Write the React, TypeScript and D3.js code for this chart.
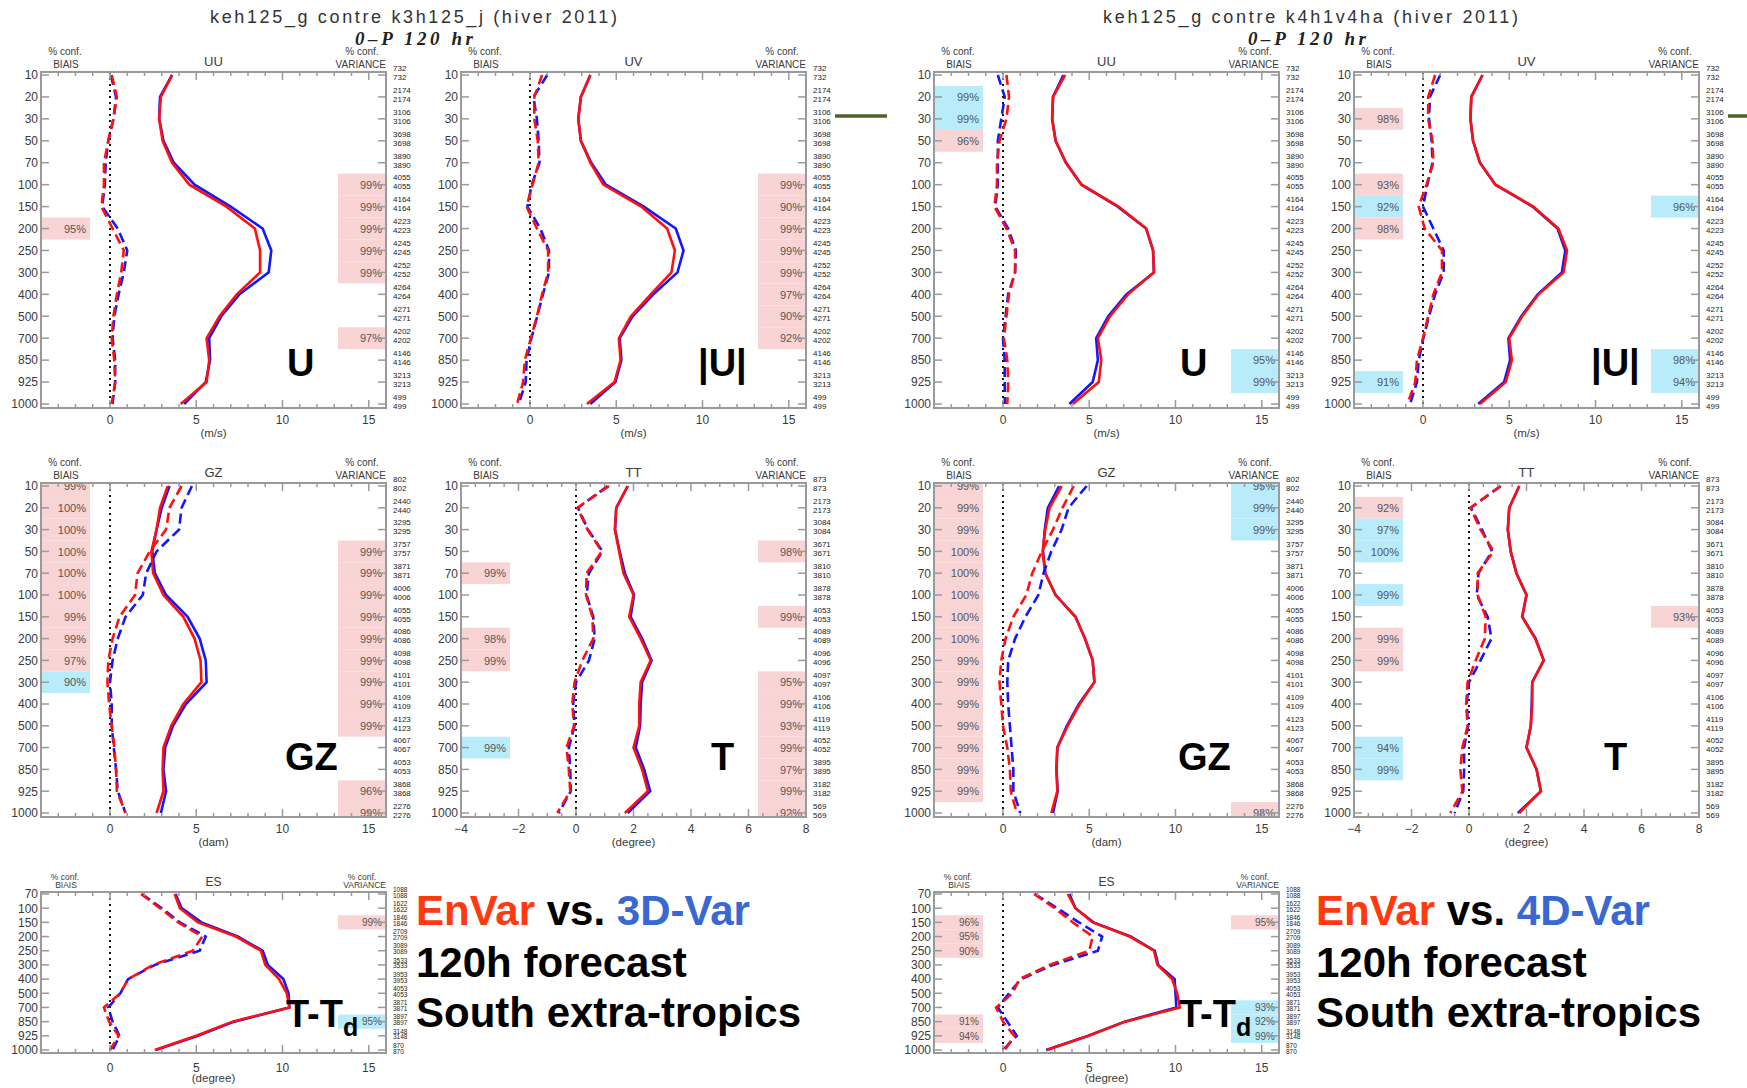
import React from 'react';
import * as d3 from 'd3';

// ---------- levels ----------
const LEVELS = [10, 20, 30, 50, 70, 100, 150, 200, 250, 300, 400, 500, 700, 850, 925, 1000];
const ES_LEVELS = [70, 100, 150, 200, 250, 300, 400, 500, 700, 850, 925, 1000];

// ---------- tick labels ----------
const X_TICKS_STD = [0, 5, 10, 15];
const X_TICKS_TT = [-4, -2, 0, 2, 4, 6, 8];

// ---------- observation counts ----------
const COUNTS_UV = [732, 2174, 3106, 3698, 3890, 4055, 4164, 4223, 4245, 4252, 4264, 4271, 4202, 4146, 3213, 499];
const COUNTS_GZ = [802, 2440, 3295, 3757, 3871, 4006, 4055, 4086, 4098, 4101, 4109, 4123, 4067, 4053, 3868, 2276];
const COUNTS_TT = [873, 2173, 3084, 3671, 3810, 3878, 4053, 4089, 4096, 4097, 4106, 4119, 4052, 3895, 3182, 569];
const COUNTS_ES = [1088, 1622, 1846, 2709, 3089, 3533, 3953, 4053, 3871, 3897, 3148, 870];

// ---------- EnVar (red) vs 3D-Var (blue) ----------
const uuL_sdRed = [3.6, 2.95, 2.85, 3.05, 3.6, 4.6, 6.75, 8.4, 8.7, 8.7, 7.35, 6.35, 5.6, 5.75, 5.6, 4.1];
const uuL_sdBlue = [3.6, 2.9, 2.85, 3.1, 3.7, 4.9, 7.0, 8.85, 9.35, 9.2, 7.5, 6.45, 5.75, 5.8, 5.55, 4.3];
const uuL_biasRed = [0.1, 0.4, 0.2, -0.1, -0.35, -0.35, -0.5, 0.15, 0.8, 0.65, 0.4, 0.2, 0.1, 0.25, 0.3, 0.1];
const uuL_biasBlue = [0.05, 0.35, 0.2, -0.1, -0.25, -0.3, -0.45, 0.45, 1.0, 0.8, 0.5, 0.25, 0.15, 0.3, 0.3, 0.15];

const uvL_sdRed = [3.5, 2.95, 2.8, 2.95, 3.5, 4.25, 6.45, 7.95, 8.4, 8.2, 7.0, 5.85, 5.15, 5.25, 4.9, 3.3];
const uvL_sdBlue = [3.5, 2.95, 2.8, 2.95, 3.55, 4.4, 6.6, 8.45, 8.9, 8.55, 7.15, 5.95, 5.2, 5.3, 4.95, 3.5];
const uvL_biasRed = [0.7, 0.25, 0.25, 0.45, 0.5, 0.15, -0.2, 0.4, 1.05, 1.05, 0.7, 0.4, 0.05, -0.3, -0.4, -0.75];
const uvL_biasBlue = [1.0, 0.2, 0.4, 0.5, 0.55, 0.1, -0.15, 0.6, 1.1, 1.1, 0.75, 0.42, 0.08, -0.2, -0.25, -0.65];

const gzL_sdRed = [3.35, 2.9, 2.7, 2.4, 2.5, 3.1, 4.25, 4.9, 5.25, 5.3, 4.25, 3.55, 3.1, 3.05, 3.1, 2.7];
const gzL_sdBlue = [3.45, 3.0, 2.7, 2.45, 2.6, 3.25, 4.5, 5.2, 5.55, 5.6, 4.4, 3.65, 3.2, 3.1, 3.25, 2.95];
const gzL_biasRed = [4.15, 3.45, 3.25, 2.3, 1.6, 1.45, 0.55, 0.15, -0.1, -0.15, -0.05, 0.1, 0.25, 0.35, 0.4, 0.9];
const gzL_biasBlue = [4.75, 4.15, 4.0, 2.7, 2.1, 1.9, 0.9, 0.45, 0.15, 0.0, 0.1, 0.1, 0.22, 0.35, 0.45, 0.9];

const ttL_sdRed = [1.8, 1.4, 1.35, 1.5, 1.65, 2.0, 1.85, 2.25, 2.6, 2.25, 2.2, 2.2, 2.0, 2.3, 2.5, 1.7];
const ttL_sdBlue = [1.8, 1.4, 1.36, 1.52, 1.7, 2.02, 1.9, 2.3, 2.63, 2.3, 2.25, 2.23, 2.08, 2.37, 2.58, 1.8];
const ttL_biasRed = [1.15, 0.05, 0.4, 0.9, 0.37, 0.35, 0.57, 0.6, 0.22, -0.05, -0.13, -0.07, -0.33, -0.25, -0.2, -0.65];
const ttL_biasBlue = [1.1, 0.07, 0.42, 0.92, 0.45, 0.37, 0.6, 0.65, 0.45, 0.0, -0.1, -0.05, -0.25, -0.2, -0.18, -0.6];

const esL_sdRed = [3.75, 4.05, 5.1, 7.3, 8.75, 9.0, 9.8, 10.25, 10.4, 7.1, 5.0, 2.6];
const esL_sdBlue = [3.8, 4.15, 5.3, 7.4, 8.85, 9.15, 10.05, 10.35, 10.4, 7.2, 5.1, 2.65];
const esL_biasRed = [1.8, 2.9, 3.95, 5.35, 4.8, 2.5, 1.05, 0.6, -0.35, -0.05, 0.5, 0.0];
const esL_biasBlue = [1.85, 3.0, 4.05, 5.55, 5.2, 2.6, 1.05, 0.6, -0.1, 0.15, 0.55, 0.15];

// ---------- EnVar (red) vs 4D-Var (blue) ----------
const uuR_sdRed = [3.6, 2.9, 2.85, 3.05, 3.65, 4.55, 6.7, 8.3, 8.7, 8.75, 7.25, 6.2, 5.5, 5.7, 5.55, 4.05];
const uuR_sdBlue = [3.5, 2.9, 2.85, 3.05, 3.65, 4.55, 6.65, 8.3, 8.7, 8.75, 7.15, 6.1, 5.4, 5.5, 5.2, 3.85];
const uuR_biasRed = [0.2, 0.35, 0.2, -0.2, -0.35, -0.35, -0.5, 0.2, 0.7, 0.7, 0.35, 0.2, 0.05, 0.25, 0.3, 0.25];
const uuR_biasBlue = [-0.3, 0.1, -0.1, -0.3, -0.3, -0.3, -0.45, 0.3, 0.75, 0.7, 0.3, 0.15, 0.0, 0.1, 0.1, 0.1];

const uvR_sdRed = [3.45, 2.8, 2.75, 2.9, 3.3, 4.2, 6.4, 7.85, 8.35, 8.15, 6.7, 5.75, 5.0, 5.15, 4.8, 3.3];
const uvR_sdBlue = [3.45, 2.8, 2.75, 2.9, 3.3, 4.2, 6.35, 7.8, 8.25, 8.05, 6.65, 5.7, 4.95, 5.05, 4.7, 3.2];
const uvR_biasRed = [0.7, 0.3, 0.3, 0.55, 0.6, 0.2, -0.25, 0.1, 1.1, 1.1, 0.6, 0.3, 0.0, -0.35, -0.45, -0.9];
const uvR_biasBlue = [1.0, 0.4, 0.35, 0.5, 0.55, 0.25, 0.0, 0.6, 1.2, 1.2, 0.7, 0.35, 0.02, -0.25, -0.35, -0.75];

const gzR_sdRed = [3.4, 2.7, 2.45, 2.3, 2.45, 3.05, 4.2, 4.75, 5.2, 5.3, 4.45, 3.75, 3.15, 3.1, 3.15, 2.8];
const gzR_sdBlue = [3.25, 2.6, 2.42, 2.32, 2.45, 3.05, 4.2, 4.75, 5.2, 5.3, 4.4, 3.7, 3.15, 3.1, 3.17, 2.9];
const gzR_biasRed = [4.1, 3.45, 2.9, 2.25, 1.7, 1.35, 0.6, 0.15, -0.1, -0.2, -0.1, 0.0, 0.25, 0.4, 0.45, 0.8];
const gzR_biasBlue = [4.85, 3.8, 3.4, 2.8, 2.35, 2.05, 1.3, 0.7, 0.3, 0.25, 0.3, 0.4, 0.5, 0.6, 0.6, 1.0];

const ttR_sdRed = [1.75, 1.4, 1.35, 1.45, 1.65, 2.0, 1.85, 2.3, 2.6, 2.2, 2.2, 2.15, 2.0, 2.35, 2.5, 1.75];
const ttR_sdBlue = [1.75, 1.4, 1.35, 1.45, 1.65, 2.0, 1.85, 2.32, 2.6, 2.2, 2.18, 2.15, 2.0, 2.35, 2.5, 1.7];
const ttR_biasRed = [1.1, 0.05, 0.4, 0.85, 0.3, 0.3, 0.58, 0.55, 0.23, -0.05, -0.1, -0.05, -0.23, -0.3, -0.23, -0.65];
const ttR_biasBlue = [1.1, 0.07, 0.45, 0.8, 0.33, 0.27, 0.65, 0.78, 0.4, 0.0, -0.08, -0.03, -0.17, -0.17, -0.2, -0.5];

const esR_sdRed = [3.75, 4.2, 5.2, 7.35, 8.75, 8.95, 9.8, 10.1, 10.25, 7.1, 4.95, 2.55];
const esR_sdBlue = [3.85, 4.2, 5.25, 7.4, 8.8, 9.0, 9.95, 10.0, 10.05, 7.05, 4.95, 2.5];
const esR_biasRed = [1.8, 3.0, 4.05, 5.2, 5.0, 2.7, 0.95, 0.55, -0.4, 0.0, 0.65, 0.1];
const esR_biasBlue = [1.85, 3.15, 4.4, 5.75, 5.5, 2.9, 1.05, 0.35, -0.3, 0.25, 0.8, 0.0];

// ---------- confidence boxes: [level, percent, 'p' pink | 'c' cyan] ----------
type Conf = [number, number, string];
const uuL_biasConf: Conf[] = [[200, 95, 'p']];
const uuL_varConf: Conf[] = [[100, 99, 'p'], [150, 99, 'p'], [200, 99, 'p'], [250, 99, 'p'], [300, 99, 'p'], [700, 97, 'p']];
const uvL_biasConf: Conf[] = [];
const uvL_varConf: Conf[] = [[100, 99, 'p'], [150, 90, 'p'], [200, 99, 'p'], [250, 99, 'p'], [300, 99, 'p'], [400, 97, 'p'], [500, 90, 'p'], [700, 92, 'p']];
const gzL_biasConf: Conf[] = [[10, 99, 'p'], [20, 100, 'p'], [30, 100, 'p'], [50, 100, 'p'], [70, 100, 'p'], [100, 100, 'p'], [150, 99, 'p'], [200, 99, 'p'], [250, 97, 'p'], [300, 90, 'c']];
const gzL_varConf: Conf[] = [[50, 99, 'p'], [70, 99, 'p'], [100, 99, 'p'], [150, 99, 'p'], [200, 99, 'p'], [250, 99, 'p'], [300, 99, 'p'], [400, 99, 'p'], [500, 99, 'p'], [925, 96, 'p'], [1000, 99, 'p']];
const ttL_biasConf: Conf[] = [[70, 99, 'p'], [200, 98, 'p'], [250, 99, 'p'], [700, 99, 'c']];
const ttL_varConf: Conf[] = [[50, 98, 'p'], [150, 99, 'p'], [300, 95, 'p'], [400, 99, 'p'], [500, 93, 'p'], [700, 99, 'p'], [850, 97, 'p'], [925, 99, 'p'], [1000, 92, 'p']];
const esL_biasConf: Conf[] = [];
const esL_varConf: Conf[] = [[150, 99, 'p'], [850, 95, 'c']];

const uuR_biasConf: Conf[] = [[20, 99, 'c'], [30, 99, 'c'], [50, 96, 'p']];
const uuR_varConf: Conf[] = [[850, 95, 'c'], [925, 99, 'c']];
const uvR_biasConf: Conf[] = [[30, 98, 'p'], [100, 93, 'p'], [150, 92, 'c'], [200, 98, 'p'], [925, 91, 'c']];
const uvR_varConf: Conf[] = [[150, 96, 'c'], [850, 98, 'c'], [925, 94, 'c']];
const gzR_biasConf: Conf[] = [[10, 99, 'p'], [20, 99, 'p'], [30, 99, 'p'], [50, 100, 'p'], [70, 100, 'p'], [100, 100, 'p'], [150, 100, 'p'], [200, 100, 'p'], [250, 99, 'p'], [300, 99, 'p'], [400, 99, 'p'], [500, 99, 'p'], [700, 99, 'p'], [850, 99, 'p'], [925, 99, 'p']];
const gzR_varConf: Conf[] = [[10, 95, 'c'], [20, 99, 'c'], [30, 99, 'c'], [1000, 98, 'p']];
const ttR_biasConf: Conf[] = [[20, 92, 'p'], [30, 97, 'c'], [50, 100, 'c'], [100, 99, 'c'], [200, 99, 'p'], [250, 99, 'p'], [700, 94, 'c'], [850, 99, 'c']];
const ttR_varConf: Conf[] = [[150, 93, 'p']];
const esR_biasConf: Conf[] = [[150, 96, 'p'], [200, 95, 'p'], [250, 90, 'p'], [850, 91, 'p'], [925, 94, 'p']];
const esR_varConf: Conf[] = [[150, 95, 'p'], [700, 93, 'c'], [850, 92, 'c'], [925, 99, 'c']];

// ---------- styling ----------
const RED = '#ff1010';
const BLUE = '#1515ff';
const PINK = '#f9d4d4';
const CYAN = '#b8ecfb';
const AXIS = '#9a9a9a';
const TXT = '#3a3a3a';
const FONT = '"Liberation Sans", Arial, sans-serif';
const PW = 345;

type PanelProps = {
  x0: number; y0: number; y1: number; yTop: number; yBot: number;
  levels: number[]; xDomain: [number, number]; xTicks: number[]; minorStep: number;
  unit: string; name: string;
  sdRed: number[]; sdBlue: number[]; biasRed: number[]; biasBlue: number[];
  biasConf: Conf[]; varConf: Conf[]; counts: number[]; small?: boolean;
};

function Panel(p: PanelProps) {
  const x1 = p.x0 + PW;
  const x = d3.scaleLinear().domain(p.xDomain).range([p.x0, x1]);
  const y = d3.scalePoint<string>().domain(p.levels.map(String)).range([p.yTop, p.yBot]);
  const step = y.step();
  const yl = (lev: number) => y(String(lev)) as number;
  const line = d3.line<number>().x((d) => x(d)).y((_, i) => yl(p.levels[i]));
  const minors = d3.range(p.xDomain[0], p.xDomain[1] + 1e-9, p.minorStep);
  const hdrConf = p.small ? p.y0 - 12 : p.y0 - 17;
  const hdrFs = p.small ? 8.5 : 10;
  const box = (c: Conf, left: boolean, k: number) => {
    const yc = yl(c[0]);
    const top = Math.max(p.y0, yc - step / 2);
    const bot = Math.min(p.y1, yc + step / 2);
    const bx = left ? p.x0 : x1 - 48;
    return (
      <rect key={(left ? 'b' : 'v') + k} x={bx} y={top} width={left ? 49 : 48} height={bot - top}
        fill={c[2] === 'p' ? PINK : CYAN} />
    );
  };
  const boxText = (c: Conf, left: boolean, k: number) => (
    <text key={(left ? 'bt' : 'vt') + k} x={left ? p.x0 + 45 : x1 - 4} y={yl(c[0])} dy="0.38em"
      textAnchor="end" fontSize={p.small ? 10 : 11} fill="#555" fontFamily={FONT}>{c[1]}%</text>
  );
  const countFs = p.small ? 6.5 : 8;
  return (
    <g>
      {p.biasConf.map((c, k) => box(c, true, k))}
      {p.varConf.map((c, k) => box(c, false, k))}
      {p.biasConf.map((c, k) => boxText(c, true, k))}
      {p.varConf.map((c, k) => boxText(c, false, k))}
      <line x1={x(0)} x2={x(0)} y1={p.y0} y2={p.y1} stroke="#111" strokeWidth={2} strokeDasharray="2,4" />
      <path d={line(p.sdBlue) || ''} fill="none" stroke={BLUE} strokeWidth={2.6} />
      <path d={line(p.sdRed) || ''} fill="none" stroke={RED} strokeWidth={2.6} />
      <path d={line(p.biasBlue) || ''} fill="none" stroke={BLUE} strokeWidth={2.6} strokeDasharray="10,5" />
      <path d={line(p.biasRed) || ''} fill="none" stroke={RED} strokeWidth={2.6} strokeDasharray="10,5" />
      <rect x={p.x0} y={p.y0} width={PW} height={p.y1 - p.y0} fill="none" stroke={AXIS} strokeWidth={2} />
      {minors.map((v, i) => {
        const major = p.xTicks.some((t) => Math.abs(t - v) < 1e-6);
        const len = major ? 8 : 4;
        return (
          <g key={'xt' + i}>
            <line x1={x(v)} x2={x(v)} y1={p.y1} y2={p.y1 - len} stroke={AXIS} strokeWidth={1.5} />
            <line x1={x(v)} x2={x(v)} y1={p.y0} y2={p.y0 + len} stroke={AXIS} strokeWidth={1.5} />
          </g>
        );
      })}
      {p.xTicks.map((t) => (
        <text key={'xl' + t} x={x(t)} y={p.y1 + (p.small ? 19 : 16)} textAnchor="middle" fontSize={12}
          fill={TXT} fontFamily={FONT}>{t < 0 ? '\u2212' + Math.abs(t) : t}</text>
      ))}
      <text x={x((p.xDomain[0] + p.xDomain[1]) / 2)} y={p.y1 + 29} textAnchor="middle" fontSize={11.5}
        fill={TXT} fontFamily={FONT}>{p.unit}</text>
      {p.levels.map((lev) => (
        <g key={'y' + lev}>
          <line x1={p.x0} x2={p.x0 + 8} y1={yl(lev)} y2={yl(lev)} stroke={AXIS} strokeWidth={1.5} />
          <line x1={x1 - 8} x2={x1} y1={yl(lev)} y2={yl(lev)} stroke={AXIS} strokeWidth={1.5} />
          <text x={p.x0 - 3} y={yl(lev)} dy="0.36em" textAnchor="end" fontSize={12} fill={TXT}
            fontFamily={FONT}>{lev}</text>
        </g>
      ))}
      {p.levels.map((lev, i) => (
        <g key={'c' + lev}>
          <text x={x1 + 7} y={yl(lev) - step * 0.32} dy="0.35em" fontSize={countFs} fill="#222"
            fontFamily={FONT}>{p.counts[i]}</text>
          <text x={x1 + 7} y={yl(lev) + step * 0.09} dy="0.35em" fontSize={countFs} fill="#222"
            fontFamily={FONT}>{p.counts[i]}</text>
        </g>
      ))}
      <text x={p.x0 + 24} y={hdrConf} textAnchor="middle" fontSize={hdrFs} fill={TXT} fontFamily={FONT}>% conf.</text>
      <text x={p.x0 + 25} y={p.y0 - 4} textAnchor="middle" fontSize={hdrFs} fill={TXT} fontFamily={FONT}>BIAIS</text>
      <text x={x1 - 24} y={hdrConf} textAnchor="middle" fontSize={hdrFs} fill={TXT} fontFamily={FONT}>% conf.</text>
      <text x={x1} y={p.y0 - 4} textAnchor="end" fontSize={hdrFs} fill={TXT} fontFamily={FONT}>VARIANCE</text>
      <text x={p.x0 + PW / 2} y={p.y0 - 6} textAnchor="middle" fontSize={p.small ? 12 : 13} fill={TXT}
        fontFamily={FONT}>{p.name}</text>
    </g>
  );
}

type Series = { sdRed: number[]; sdBlue: number[]; biasRed: number[]; biasBlue: number[]; biasConf: Conf[]; varConf: Conf[] };

function Half({ off, title, titleLen, blueName, uu, uv, gz, tt, es }: {
  off: number; title: string; titleLen: number; blueName: string;
  uu: Series; uv: Series; gz: Series; tt: Series; es: Series;
}) {
  const top = { y0: 72, y1: 408, yTop: 75, yBot: 404, levels: LEVELS };
  const mid = { y0: 483, y1: 817, yTop: 486, yBot: 813, levels: LEVELS };
  const bot = { y0: 892, y1: 1053, yTop: 894, yBot: 1050, levels: ES_LEVELS };
  const std = { xDomain: [-4, 16] as [number, number], xTicks: X_TICKS_STD, minorStep: 1 };
  const big = { fontFamily: FONT, fontWeight: 700, fontSize: 38, fill: '#000' } as const;
  const tx = off === 0 ? 416 : 423;
  return (
    <g transform={`translate(${off},0)`}>
      <text x={210} y={23} fontSize={18} fill="#333" fontFamily={FONT} textLength={titleLen}
        lengthAdjust="spacing">{title}</text>
      <text x={355} y={45} fontSize={19} fill="#222" fontFamily='"Liberation Serif", serif' fontStyle="italic"
        fontWeight={700} textLength={118} lengthAdjust="spacing">0–P 120 hr</text>
      <Panel x0={41} {...top} {...std} unit="(m/s)" name="UU" {...uu} counts={COUNTS_UV} />
      <Panel x0={461} {...top} {...std} unit="(m/s)" name="UV" {...uv} counts={COUNTS_UV} />
      <Panel x0={41} {...mid} {...std} unit="(dam)" name="GZ" {...gz} counts={COUNTS_GZ} />
      <Panel x0={461} {...mid} xDomain={[-4, 8]} xTicks={X_TICKS_TT} minorStep={0.5} unit="(degree)" name="TT"
        {...tt} counts={COUNTS_TT} />
      <Panel x0={41} {...bot} {...std} unit="(degree)" name="ES" {...es} counts={COUNTS_ES} small />
      <text x={287} y={376} {...big}>U</text>
      <text x={698} y={376} {...big}>|U|</text>
      <text x={285} y={770} {...big}>GZ</text>
      <text x={711} y={770} {...big}>T</text>
      <text x={286} y={1027} {...big}>T-T<tspan fontSize={25} dy={9}>d</tspan></text>
      <text x={tx} y={925} fontFamily={FONT} fontWeight={700} fontSize={42}>
        <tspan fill="#ff3a10">EnVar</tspan><tspan fill="#000"> vs. </tspan><tspan fill="#3a68d2">{blueName}</tspan>
      </text>
      <text x={tx} y={977} fontFamily={FONT} fontWeight={700} fontSize={42} fill="#000">120h forecast</text>
      <text x={tx} y={1027} fontFamily={FONT} fontWeight={700} fontSize={42} fill="#000">South extra-tropics</text>
    </g>
  );
}

export default function App() {
  const L = {
    uu: { sdRed: uuL_sdRed, sdBlue: uuL_sdBlue, biasRed: uuL_biasRed, biasBlue: uuL_biasBlue, biasConf: uuL_biasConf, varConf: uuL_varConf },
    uv: { sdRed: uvL_sdRed, sdBlue: uvL_sdBlue, biasRed: uvL_biasRed, biasBlue: uvL_biasBlue, biasConf: uvL_biasConf, varConf: uvL_varConf },
    gz: { sdRed: gzL_sdRed, sdBlue: gzL_sdBlue, biasRed: gzL_biasRed, biasBlue: gzL_biasBlue, biasConf: gzL_biasConf, varConf: gzL_varConf },
    tt: { sdRed: ttL_sdRed, sdBlue: ttL_sdBlue, biasRed: ttL_biasRed, biasBlue: ttL_biasBlue, biasConf: ttL_biasConf, varConf: ttL_varConf },
    es: { sdRed: esL_sdRed, sdBlue: esL_sdBlue, biasRed: esL_biasRed, biasBlue: esL_biasBlue, biasConf: esL_biasConf, varConf: esL_varConf },
  };
  const R = {
    uu: { sdRed: uuR_sdRed, sdBlue: uuR_sdBlue, biasRed: uuR_biasRed, biasBlue: uuR_biasBlue, biasConf: uuR_biasConf, varConf: uuR_varConf },
    uv: { sdRed: uvR_sdRed, sdBlue: uvR_sdBlue, biasRed: uvR_biasRed, biasBlue: uvR_biasBlue, biasConf: uvR_biasConf, varConf: uvR_varConf },
    gz: { sdRed: gzR_sdRed, sdBlue: gzR_sdBlue, biasRed: gzR_biasRed, biasBlue: gzR_biasBlue, biasConf: gzR_biasConf, varConf: gzR_varConf },
    tt: { sdRed: ttR_sdRed, sdBlue: ttR_sdBlue, biasRed: ttR_biasRed, biasBlue: ttR_biasBlue, biasConf: ttR_biasConf, varConf: ttR_varConf },
    es: { sdRed: esR_sdRed, sdBlue: esR_sdBlue, biasRed: esR_biasRed, biasBlue: esR_biasBlue, biasConf: esR_biasConf, varConf: esR_varConf },
  };
  return (
    <svg width={1747} height={1088} viewBox="0 0 1747 1088"
      style={{ position: 'absolute', left: 0, top: 0, background: '#fff' }}>
      <rect x={0} y={0} width={1747} height={1088} fill="#fff" />
      <Half off={0} title="keh125_g contre k3h125_j (hiver 2011)" titleLen={407} blueName="3D-Var" {...L} />
      <Half off={893} title="keh125_g contre k4h1v4ha (hiver 2011)" titleLen={415} blueName="4D-Var" {...R} />
      <line x1={835} x2={887} y1={116} y2={116} stroke="#4f6228" strokeWidth={3.5} />
      <line x1={1728} x2={1747} y1={116} y2={116} stroke="#4f6228" strokeWidth={3.5} />
    </svg>
  );
}
